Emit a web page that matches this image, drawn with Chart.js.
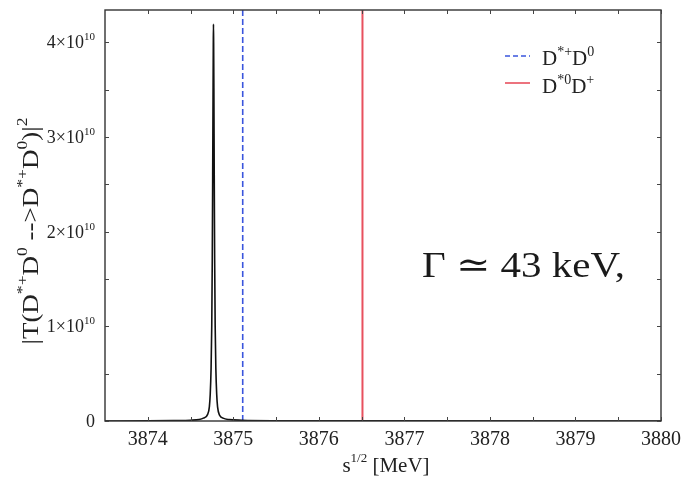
<!DOCTYPE html>
<html>
<head>
<meta charset="utf-8">
<script src="https://cdn.jsdelivr.net/npm/chart.js@4/dist/chart.umd.min.js"></script>
<style>
  html, body { margin: 0; padding: 0; background: #fff; }
  #wrap { width: 686px; height: 480px; }
</style>
</head>
<body>
<div id="wrap"><canvas id="c" width="686" height="480"></canvas></div>
<script>
// sqrt(s) in MeV
const energy = [
  3873.5, 3874.0, 3874.3, 3874.5, 3874.6, 3874.65, 3874.7, 3874.72, 3874.73,
  3874.74, 3874.748, 3874.754, 3874.759, 3874.763, 3874.766, 3874.768, 3874.77,
  3874.773, 3874.777, 3874.782, 3874.788, 3874.796, 3874.806, 3874.816, 3874.84,
  3874.88, 3874.95, 3875.1, 3875.5, 3876.5, 3880.0
];
// |T(D*+D0 -> D*+D0)|^2 in units of 10^10
const amplitude = [
  0.0, 0.002, 0.005, 0.008, 0.015, 0.03, 0.07, 0.15, 0.28,
  0.55, 1.0, 1.7, 2.6, 3.4, 3.95, 4.19, 4.0,
  3.5, 2.6, 1.7, 1.0, 0.55, 0.28, 0.15, 0.06,
  0.03, 0.015, 0.008, 0.003, 0.001, 0.0
];
// two-body thresholds (MeV)
const thresholdNames = ['D*+D0', 'D*0D+'];
const thresholdEnergy = [3875.11, 3876.51];

const xRange = [3873.5, 3880];
const yRange = [0, 4.34];
const xMajorTicks = [3874, 3875, 3876, 3877, 3878, 3879, 3880];
const xMinorTicks = [3874.5, 3875.5, 3876.5, 3877.5, 3878.5, 3879.5];
const yMajorTicks = [0, 1, 2, 3, 4];
const yMinorTicks = [0.5, 1.5, 2.5, 3.5];

const SERIF = '"Liberation Serif", "DejaVu Serif", serif';

// a run of [text, superscript?] pieces, drawn from (x, baseline y)
function richWidth(ctx, segs, size, supSize) {
  let w = 0;
  for (const [t, sup] of segs) {
    ctx.font = (sup ? supSize : size) + 'px ' + SERIF;
    w += ctx.measureText(t).width;
  }
  return w;
}
function drawRich(ctx, segs, x, y, size, supSize, raise) {
  for (const [t, sup] of segs) {
    ctx.font = (sup ? supSize : size) + 'px ' + SERIF;
    ctx.fillText(t, x, sup ? y - raise : y);
    x += ctx.measureText(t).width;
  }
}

const frame = {
  id: 'frame',
  afterDraw(chart) {
    const ctx = chart.ctx;
    const a = chart.chartArea;
    const xs = chart.scales.x, ys = chart.scales.y;
    ctx.save();
    ctx.textBaseline = 'alphabetic';
    ctx.fillStyle = '#222';

    // box
    ctx.strokeStyle = '#333';
    ctx.lineWidth = 1.4;
    ctx.strokeRect(a.left, a.top, a.right - a.left, a.bottom - a.top);

    // inward ticks on all four sides
    ctx.lineWidth = 1;
    ctx.strokeStyle = '#444';
    const tick = 4;
    ctx.beginPath();
    for (const v of xMajorTicks.concat(xMinorTicks)) {
      const px = Math.round(xs.getPixelForValue(v)) + 0.5;
      ctx.moveTo(px, a.bottom); ctx.lineTo(px, a.bottom - tick);
      ctx.moveTo(px, a.top); ctx.lineTo(px, a.top + tick);
    }
    for (const v of yMajorTicks.concat(yMinorTicks)) {
      const py = Math.round(ys.getPixelForValue(v)) + 0.5;
      ctx.moveTo(a.left, py); ctx.lineTo(a.left + tick, py);
      ctx.moveTo(a.right, py); ctx.lineTo(a.right - tick, py);
    }
    ctx.stroke();

    // x tick labels
    ctx.font = '20px ' + SERIF;
    ctx.textAlign = 'center';
    for (const v of xMajorTicks) {
      ctx.fillText(String(v), xs.getPixelForValue(v), 445);
    }

    // y tick labels: n×10^10
    ctx.textAlign = 'left';
    for (const v of yMajorTicks) {
      const py = ys.getPixelForValue(v);
      const segs = v === 0 ? [['0', false]] : [[v + '×10', false], ['10', true]];
      const w = richWidth(ctx, segs, 18, 11);
      drawRich(ctx, segs, 95 - w, py + 6, 18, 11, 8);
    }

    // x axis title
    const xt = [['s', false], ['1/2', true], [' [MeV]', false]];
    const xw = richWidth(ctx, xt, 21, 13);
    drawRich(ctx, xt, 386 - xw / 2, 472, 21, 13, 10);

    // y axis title (rotated)
    const yt = [['|T(D', false], ['*+', true], ['D', false], ['0', true],
                [' -->D', false], ['*+', true], ['D', false], ['0', true],
                [')|', false], ['2', true]];
    ctx.save();
    ctx.translate(38, 231);
    ctx.rotate(-Math.PI / 2);
    const yw = richWidth(ctx, yt, 23, 15);
    ctx.scale(227 / yw, 1);
    drawRich(ctx, yt, -yw / 2, 0, 23, 15, 11);
    ctx.restore();

    // legend
    const rows = [
      { y: 56, color: '#3a55dd', dash: [5, 3], segs: [['D', false], ['*+', true], ['D', false], ['0', true]], base: 65 },
      { y: 83, color: '#e8505e', dash: [], segs: [['D', false], ['*0', true], ['D', false], ['+', true]], base: 93 }
    ];
    for (const r of rows) {
      ctx.strokeStyle = r.color;
      ctx.lineWidth = 1.6;
      ctx.setLineDash(r.dash);
      ctx.beginPath();
      ctx.moveTo(505, r.y); ctx.lineTo(530, r.y);
      ctx.stroke();
      ctx.setLineDash([]);
      ctx.fillStyle = '#222';
      drawRich(ctx, r.segs, 542, r.base, 21, 14, 9);
    }

    // width annotation
    ctx.fillStyle = '#1a1a1a';
    ctx.font = '36px ' + SERIF;
    const g = 'Γ ≃ 43 keV';
    const gw = ctx.measureText(g).width;
    ctx.save();
    ctx.translate(422, 277);
    ctx.scale(198 / gw, 1);
    ctx.fillText(g + ',', 0, 0);
    ctx.restore();

    ctx.restore();
  }
};

const ctx = document.getElementById('c').getContext('2d');
new Chart(ctx, {
  type: 'scatter',
  data: {
    datasets: [
      {
        label: '|T|^2',
        data: energy.map((e, i) => ({ x: e, y: amplitude[i] })),
        showLine: true,
        borderColor: '#111',
        borderWidth: 1.6,
        borderJoinStyle: 'round',
        borderCapStyle: 'round',
        cubicInterpolationMode: 'monotone',
        pointRadius: 0
      },
      {
        label: thresholdNames[0],
        data: [{ x: thresholdEnergy[0], y: yRange[0] }, { x: thresholdEnergy[0], y: yRange[1] }],
        showLine: true,
        borderColor: '#3a55dd',
        borderWidth: 1.6,
        borderDash: [6, 3],
        pointRadius: 0
      },
      {
        label: thresholdNames[1],
        data: [{ x: thresholdEnergy[1], y: yRange[0] }, { x: thresholdEnergy[1], y: yRange[1] }],
        showLine: true,
        borderColor: '#e8505e',
        borderWidth: 2,
        pointRadius: 0
      }
    ]
  },
  options: {
    responsive: false,
    animation: false,
    devicePixelRatio: 1,
    layout: { padding: { top: 10, right: 25, left: 0, bottom: 0 } },
    plugins: { legend: { display: false }, tooltip: { enabled: false } },
    scales: {
      x: {
        type: 'linear', min: xRange[0], max: xRange[1],
        ticks: { display: false }, grid: { display: false }, border: { display: false },
        afterFit(s) { s.height = 59; }
      },
      y: {
        type: 'linear', min: yRange[0], max: yRange[1],
        ticks: { display: false }, grid: { display: false }, border: { display: false },
        afterFit(s) { s.width = 105; }
      }
    }
  },
  plugins: [frame]
});
</script>
</body>
</html>
